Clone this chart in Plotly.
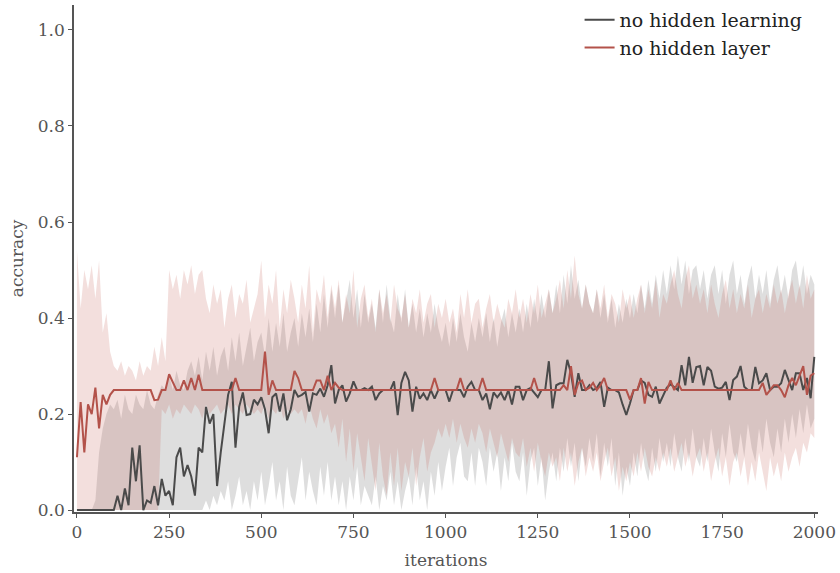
import plotly.graph_objects as go

# Training iterations sampled every 10 steps
iterations = list(range(0, 2001, 10))

# Mean accuracy: network without hidden-layer learning
learning_mean = [
    0, 0, 0, 0, 0, 0, 0, 0, 0, 0,
    0.0, 0.03, 0.0, 0.045, 0.01, 0.13, 0.06, 0.135, 0.0, 0.02,
    0.015, 0.05, 0.01, 0.065, 0.03, 0.04, 0.01, 0.11, 0.13, 0.07,
    0.094, 0.07, 0.03, 0.13, 0.12, 0.215, 0.18, 0.20, 0.05, 0.12,
    0.18, 0.24, 0.267, 0.13, 0.215, 0.245, 0.198, 0.20, 0.23, 0.22,
    0.235, 0.21, 0.16, 0.235, 0.243, 0.205, 0.243, 0.187, 0.21, 0.25,
    0.236, 0.24, 0.246, 0.205, 0.243, 0.24, 0.253, 0.236, 0.26, 0.302,
    0.222, 0.25, 0.26, 0.226, 0.243, 0.268, 0.25, 0.25, 0.254, 0.25,
    0.257, 0.229, 0.243, 0.25, 0.25, 0.25, 0.268, 0.198, 0.265, 0.288,
    0.27, 0.205, 0.257, 0.232, 0.243, 0.229, 0.25, 0.232, 0.25, 0.25,
    0.25, 0.226, 0.25, 0.25, 0.25, 0.235, 0.257, 0.267, 0.25, 0.25,
    0.229, 0.243, 0.21, 0.245, 0.235, 0.245, 0.229, 0.25, 0.22, 0.257,
    0.257, 0.229, 0.25, 0.254, 0.245, 0.235, 0.25, 0.25, 0.31, 0.212,
    0.26, 0.264, 0.264, 0.313, 0.285, 0.236, 0.285, 0.25, 0.25, 0.26,
    0.25, 0.254, 0.267, 0.215, 0.255, 0.25, 0.25, 0.245, 0.22, 0.198,
    0.222, 0.25, 0.25, 0.27, 0.265, 0.24, 0.236, 0.257, 0.222, 0.24,
    0.255, 0.262, 0.255, 0.25, 0.302, 0.26, 0.319, 0.265, 0.298, 0.30,
    0.26, 0.298, 0.29, 0.257, 0.253, 0.255, 0.267, 0.229, 0.271, 0.278,
    0.30, 0.257, 0.25, 0.25, 0.298, 0.264, 0.27, 0.285, 0.25, 0.257,
    0.257, 0.264, 0.292, 0.271, 0.25, 0.285, 0.285, 0.25, 0.275, 0.233,
    0.319,
]
learning_lo = [
    0, 0, 0, 0, 0, 0, 0, 0, 0, 0,
    0, 0, 0, 0, 0, 0, 0, 0, 0, 0,
    0, 0, 0, 0, 0, 0, 0, 0, 0, 0,
    0, 0, 0, 0, 0, 0.02, 0.0, 0.03, 0.01, 0.04,
    0.02, 0.06, 0.0, 0.03, 0.07, 0.01, 0.04, 0.0, 0.06, 0.02,
    0.08, 0.01, 0.05, 0.10, 0.02, 0.06, 0.0, 0.09, 0.03, 0.01,
    0.06, 0.11, 0.02, 0.08, 0.04, 0.01, 0.09, 0.03, 0.10, 0.02,
    0.07, 0.01, 0.06, 0.0, 0.07, 0.02, 0.09, 0.01, 0.05, 0.03,
    0.01, 0.07, 0.0, 0.05, 0.02, 0.08, 0.01, 0.06, 0.0, 0.04,
    0.07, 0.01, 0.09, 0.02, 0.06, 0.0, 0.08, 0.03, 0.10, 0.04,
    0.09, 0.13, 0.05, 0.11, 0.14, 0.07, 0.06, 0.12, 0.05, 0.13,
    0.10, 0.05, 0.13, 0.08, 0.12, 0.04, 0.11, 0.06, 0.14, 0.08,
    0.06, 0.12, 0.03, 0.10, 0.13, 0.05, 0.11, 0.02, 0.08, 0.12,
    0.06, 0.13, 0.08, 0.15, 0.09, 0.14, 0.06, 0.13, 0.09, 0.15,
    0.10, 0.16, 0.07, 0.14, 0.09, 0.15, 0.05, 0.12, 0.03, 0.09,
    0.05, 0.12, 0.07, 0.14, 0.09, 0.06, 0.13, 0.08, 0.15, 0.10,
    0.14, 0.09, 0.16, 0.11, 0.08, 0.15, 0.10, 0.17, 0.11, 0.09,
    0.15, 0.10, 0.17, 0.12, 0.08, 0.16, 0.11, 0.18, 0.12, 0.10,
    0.16, 0.11, 0.18, 0.13, 0.10, 0.17, 0.12, 0.19, 0.14, 0.11,
    0.17, 0.12, 0.19, 0.14, 0.20, 0.15, 0.21, 0.16, 0.22, 0.17,
    0.19,
]
learning_hi = [
    0, 0, 0, 0, 0, 0.02, 0.12, 0.17, 0.20, 0.22,
    0.21, 0.23, 0.19, 0.24, 0.21, 0.20, 0.24, 0.22, 0.21, 0.25,
    0.22, 0.21, 0.24, 0.26, 0.25, 0.28, 0.25, 0.29, 0.26, 0.25,
    0.29, 0.31, 0.28, 0.32, 0.27, 0.33, 0.29, 0.34, 0.28, 0.32,
    0.34, 0.29, 0.36, 0.31, 0.37, 0.30, 0.34, 0.38, 0.31, 0.35,
    0.37, 0.32, 0.40, 0.33, 0.39, 0.34, 0.41, 0.33, 0.37, 0.40,
    0.34, 0.41, 0.36, 0.42, 0.35, 0.43, 0.37, 0.45, 0.38, 0.46,
    0.40, 0.47, 0.39, 0.44, 0.48, 0.40, 0.46, 0.38, 0.45, 0.39,
    0.43, 0.38, 0.46, 0.39, 0.47, 0.40, 0.37, 0.45, 0.39, 0.46,
    0.38, 0.43, 0.37, 0.42, 0.36, 0.41, 0.37, 0.43, 0.38, 0.35,
    0.39, 0.34, 0.40, 0.35, 0.41, 0.36, 0.33, 0.39, 0.35, 0.40,
    0.36, 0.41, 0.35, 0.40, 0.34, 0.39, 0.42, 0.36, 0.41, 0.37,
    0.42, 0.37, 0.43, 0.38, 0.44, 0.39, 0.45, 0.40, 0.46, 0.41,
    0.47, 0.41, 0.49, 0.43, 0.51, 0.44, 0.48, 0.42, 0.47, 0.43,
    0.41, 0.46, 0.40, 0.45, 0.39, 0.44, 0.38, 0.43, 0.39, 0.44,
    0.40, 0.45, 0.41, 0.47, 0.42, 0.48, 0.43, 0.49, 0.44, 0.50,
    0.45, 0.51, 0.46, 0.53, 0.47, 0.52, 0.45, 0.50, 0.51, 0.46,
    0.50, 0.44, 0.49, 0.51, 0.45, 0.50, 0.43, 0.49, 0.52, 0.45,
    0.49, 0.43, 0.48, 0.51, 0.44, 0.49, 0.45, 0.50, 0.43, 0.48,
    0.51, 0.45, 0.49, 0.44, 0.50, 0.52, 0.46, 0.51, 0.45, 0.49,
    0.47,
]

# Mean accuracy: network without a hidden layer
layer_mean = [
    0.11, 0.225, 0.12, 0.22, 0.20, 0.255, 0.17, 0.24, 0.22, 0.24,
    0.25, 0.25, 0.25, 0.25, 0.25, 0.25, 0.25, 0.25, 0.25, 0.25,
    0.25, 0.229, 0.23, 0.25, 0.25, 0.283, 0.265, 0.25, 0.25, 0.27,
    0.25, 0.275, 0.25, 0.282, 0.25, 0.25, 0.25, 0.25, 0.25, 0.25,
    0.25, 0.25, 0.25, 0.275, 0.25, 0.25, 0.25, 0.25, 0.25, 0.25,
    0.25, 0.33, 0.24, 0.27, 0.25, 0.25, 0.25, 0.25, 0.25, 0.29,
    0.275, 0.25, 0.25, 0.25, 0.25, 0.27, 0.27, 0.25, 0.28, 0.25,
    0.265, 0.255, 0.25, 0.25, 0.25, 0.25, 0.25, 0.25, 0.25, 0.25,
    0.25, 0.25, 0.25, 0.25, 0.25, 0.25, 0.25, 0.25, 0.25, 0.25,
    0.25, 0.25, 0.25, 0.25, 0.25, 0.25, 0.25, 0.275, 0.25, 0.25,
    0.25, 0.25, 0.25, 0.25, 0.275, 0.25, 0.25, 0.25, 0.25, 0.25,
    0.275, 0.25, 0.25, 0.25, 0.25, 0.25, 0.25, 0.25, 0.25, 0.25,
    0.25, 0.25, 0.25, 0.25, 0.275, 0.25, 0.25, 0.25, 0.25, 0.25,
    0.25, 0.25, 0.26, 0.25, 0.30, 0.24, 0.265, 0.27, 0.25, 0.255,
    0.265, 0.25, 0.26, 0.275, 0.25, 0.25, 0.25, 0.25, 0.25, 0.25,
    0.23, 0.25, 0.25, 0.275, 0.222, 0.267, 0.25, 0.25, 0.25, 0.25,
    0.25, 0.27, 0.25, 0.265, 0.25, 0.25, 0.25, 0.25, 0.25, 0.25,
    0.25, 0.25, 0.25, 0.25, 0.25, 0.25, 0.25, 0.25, 0.25, 0.25,
    0.25, 0.25, 0.25, 0.25, 0.25, 0.25, 0.265, 0.24, 0.25, 0.26,
    0.26, 0.25, 0.235, 0.26, 0.275, 0.26, 0.28, 0.30, 0.24, 0.28,
    0.285,
]
layer_lo = [
    0, 0, 0, 0, 0, 0, 0, 0, 0, 0,
    0, 0, 0, 0, 0, 0, 0, 0, 0, 0,
    0, 0, 0, 0.21, 0.20, 0.22, 0.19, 0.21, 0.20, 0.22,
    0.21, 0.20, 0.22, 0.21, 0.19, 0.22, 0.20, 0.21, 0.22, 0.20,
    0.21, 0.22, 0.20, 0.22, 0.21, 0.20, 0.22, 0.21, 0.20, 0.21,
    0.20, 0.22, 0.19, 0.21, 0.20, 0.22, 0.19, 0.21, 0.20, 0.21,
    0.20, 0.21, 0.18, 0.22, 0.19, 0.17, 0.21, 0.18, 0.20, 0.16,
    0.18, 0.13, 0.19, 0.10, 0.17, 0.08, 0.16, 0.11, 0.06, 0.15,
    0.10, 0.04, 0.14, 0.07, 0.03, 0.12, 0.05, 0.13, 0.04, 0.10,
    0.07, 0.13, 0.05, 0.11, 0.15, 0.08, 0.12, 0.14, 0.17, 0.15,
    0.18, 0.15, 0.19, 0.14, 0.18, 0.15, 0.13, 0.17, 0.14, 0.18,
    0.16, 0.12, 0.17, 0.14, 0.11, 0.16, 0.13, 0.10, 0.15, 0.12,
    0.11, 0.15, 0.09, 0.13, 0.08, 0.14, 0.10, 0.07, 0.12, 0.09,
    0.11, 0.06, 0.13, 0.08, 0.12, 0.05, 0.10, 0.13, 0.07, 0.11,
    0.08, 0.12, 0.06, 0.10, 0.13, 0.07, 0.11, 0.04, 0.09, 0.06,
    0.10, 0.07, 0.12, 0.08, 0.13, 0.09, 0.07, 0.11, 0.08, 0.12,
    0.09, 0.13, 0.08, 0.11, 0.14, 0.09, 0.12, 0.07, 0.11, 0.13,
    0.08, 0.12, 0.06, 0.10, 0.13, 0.07, 0.11, 0.05, 0.10, 0.12,
    0.07, 0.11, 0.05, 0.10, 0.06, 0.12, 0.08, 0.04, 0.11, 0.07,
    0.10, 0.06, 0.12, 0.08, 0.11, 0.13, 0.09, 0.14, 0.12, 0.16,
    0.15,
]
layer_hi = [
    0.54, 0.42, 0.50, 0.46, 0.51, 0.44, 0.52, 0.37, 0.41, 0.33,
    0.30, 0.29, 0.31, 0.28, 0.30, 0.29, 0.27, 0.31, 0.28, 0.30,
    0.29, 0.34, 0.30, 0.36, 0.31, 0.50, 0.46, 0.49, 0.44, 0.50,
    0.47, 0.51, 0.45, 0.49, 0.50, 0.44, 0.41, 0.47, 0.43, 0.46,
    0.38, 0.44, 0.47, 0.40, 0.45, 0.43, 0.48, 0.39, 0.42, 0.45,
    0.52, 0.40, 0.47, 0.43, 0.50, 0.38, 0.46, 0.41, 0.48, 0.44,
    0.39, 0.47, 0.42, 0.51, 0.37, 0.46, 0.43, 0.49, 0.40, 0.47,
    0.42, 0.48, 0.39, 0.45, 0.41, 0.50, 0.38, 0.44, 0.47, 0.40,
    0.44, 0.37, 0.46, 0.41, 0.45, 0.39, 0.47, 0.42, 0.40, 0.45,
    0.38, 0.44, 0.41, 0.46, 0.39, 0.43, 0.45, 0.38, 0.43, 0.40,
    0.44, 0.39, 0.42, 0.37, 0.45, 0.40, 0.46, 0.39, 0.43, 0.44,
    0.38, 0.42, 0.45, 0.39, 0.43, 0.40, 0.38, 0.44, 0.41, 0.46,
    0.40, 0.44, 0.39, 0.45, 0.41, 0.47, 0.40, 0.43, 0.46, 0.41,
    0.44, 0.48, 0.42, 0.50, 0.44, 0.53, 0.45, 0.42, 0.47, 0.43,
    0.41, 0.46, 0.42, 0.47, 0.40, 0.45, 0.43, 0.39, 0.46, 0.42,
    0.45, 0.40, 0.44, 0.47, 0.41, 0.46, 0.42, 0.48, 0.40, 0.45,
    0.43, 0.47, 0.50, 0.45, 0.42, 0.48, 0.51, 0.44, 0.47, 0.43,
    0.46, 0.41, 0.47, 0.43, 0.40, 0.45, 0.48, 0.42, 0.46, 0.41,
    0.45, 0.42, 0.47, 0.40, 0.44, 0.46, 0.41, 0.45, 0.42, 0.47,
    0.43, 0.46, 0.41, 0.45, 0.48, 0.43, 0.47, 0.42, 0.49, 0.44,
    0.46,
]

series_names = ["no hidden learning", "no hidden layer"]
line_colors = ["#4a4a4a", "#b3524a"]
band_colors = ["rgba(128,128,128,0.26)", "rgba(196,96,86,0.20)"]

FONT = "DejaVu Serif"
AXIS_GREY = "#555555"

fig = go.Figure()

bands = [(learning_lo, learning_hi), (layer_lo, layer_hi)]
for (lo, hi), color in zip(bands, band_colors):
    fig.add_trace(go.Scatter(
        x=iterations + iterations[::-1],
        y=hi + lo[::-1],
        fill="toself",
        fillcolor=color,
        line=dict(width=0),
        mode="lines",
        hoverinfo="skip",
        showlegend=False,
    ))

for name, values, color in zip(series_names, [learning_mean, layer_mean], line_colors):
    fig.add_trace(go.Scatter(
        x=iterations,
        y=values,
        mode="lines",
        name=name,
        line=dict(color=color, width=2),
    ))

fig.update_layout(
    width=840,
    height=573,
    margin=dict(l=74, r=22, t=5, b=61, autoexpand=False),
    paper_bgcolor="white",
    plot_bgcolor="white",
    font=dict(family=FONT, size=16, color=AXIS_GREY),
    legend=dict(
        x=0.986, y=1.008, xanchor="right", yanchor="top",
        bgcolor="rgba(0,0,0,0)",
        font=dict(family=FONT, size=19, color="#222222"),
        tracegroupgap=0,
        itemwidth=30,
    ),
)

fig.update_xaxes(
    range=[-8, 2010],
    tickvals=[0, 250, 500, 750, 1000, 1250, 1500, 1750, 2000],
    showgrid=False, zeroline=False,
    showline=True, linecolor=AXIS_GREY, linewidth=1.5,
    ticks="outside", ticklen=4, tickcolor=AXIS_GREY,
    tickfont=dict(family=FONT, size=17, color=AXIS_GREY),
    title=dict(text="iterations", font=dict(family=FONT, size=17, color=AXIS_GREY), standoff=13),
)
fig.update_yaxes(
    range=[-0.004, 1.052],
    tickvals=[0.0, 0.2, 0.4, 0.6, 0.8, 1.0],
    tickformat=".1f",
    showgrid=False, zeroline=False,
    showline=True, linecolor=AXIS_GREY, linewidth=1.5,
    ticks="outside", ticklen=4, tickcolor=AXIS_GREY,
    tickfont=dict(family=FONT, size=17, color=AXIS_GREY),
    title=dict(text="accuracy", font=dict(family=FONT, size=17, color=AXIS_GREY), standoff=10),
)

fig.write_html("out.html")
